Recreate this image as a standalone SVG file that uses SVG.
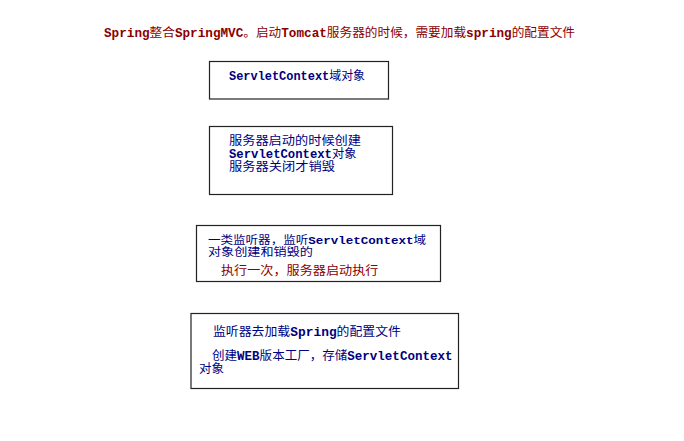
<svg xmlns="http://www.w3.org/2000/svg" width="684" height="441" viewBox="0 0 684 441">
<style>
.t{font-family:"Noto Sans CJK SC","Noto Sans CJK JP",sans-serif;font-size:12px;fill:#000080}
.s{font-size:11px}
.r{fill:#8b0000}
.m{font-family:"Liberation Mono","DejaVu Sans Mono",monospace;font-weight:bold;font-size:12px}
.s .m{font-size:11px}
.box{fill:#fff;stroke:#222;stroke-width:1.2}
</style>
<rect width="684" height="441" fill="#fff"/>
<g id="title">
<text class="t r" x="104" y="37" textLength="471" lengthAdjust="spacingAndGlyphs"><tspan class="m">Spring</tspan>整合<tspan class="m">SpringMVC</tspan>。启动<tspan class="m">Tomcat</tspan>服务器的时候，需要加载<tspan class="m">spring</tspan>的配置文件</text>
</g>
<g id="node1">
<rect class="box" x="209.5" y="61.5" width="179" height="37.5"/>
<text class="t" x="229" y="80" textLength="136" lengthAdjust="spacingAndGlyphs"><tspan class="m">ServletContext</tspan>域对象</text>
</g>
<g id="node2">
<rect class="box" x="209.5" y="126.5" width="183" height="68"/>
<text class="t" x="229" y="145" textLength="132" lengthAdjust="spacingAndGlyphs">服务器启动的时候创建</text>
<text class="t" x="229" y="158" textLength="127.5" lengthAdjust="spacingAndGlyphs"><tspan class="m">ServletContext</tspan>对象</text>
<text class="t" x="229" y="171" textLength="106" lengthAdjust="spacingAndGlyphs">服务器关闭才销毁</text>
</g>
<g id="node3">
<rect class="box" x="196.5" y="225.5" width="244" height="56"/>
<text class="t s" x="208" y="244" textLength="218" lengthAdjust="spacingAndGlyphs">一类监听器，监听<tspan class="m">ServletContext</tspan>域</text>
<text class="t s" x="208" y="256" textLength="105" lengthAdjust="spacingAndGlyphs">对象创建和销毁的</text>
<text class="t r" x="221" y="275" textLength="157.5" lengthAdjust="spacingAndGlyphs">执行一次，服务器启动执行</text>
</g>
<g id="node4">
<rect class="box" x="191" y="313.5" width="267.5" height="75"/>
<text class="t" x="213" y="336" textLength="188" lengthAdjust="spacingAndGlyphs">监听器去加载<tspan class="m">Spring</tspan>的配置文件</text>
<text class="t" x="212" y="360" textLength="240.5" lengthAdjust="spacingAndGlyphs">创建<tspan class="m">WEB</tspan>版本工厂，存储<tspan class="m">ServletContext</tspan></text>
<text class="t" x="199" y="373" textLength="25" lengthAdjust="spacingAndGlyphs">对象</text>
</g>
<g id="connectors"></g>
</svg>
